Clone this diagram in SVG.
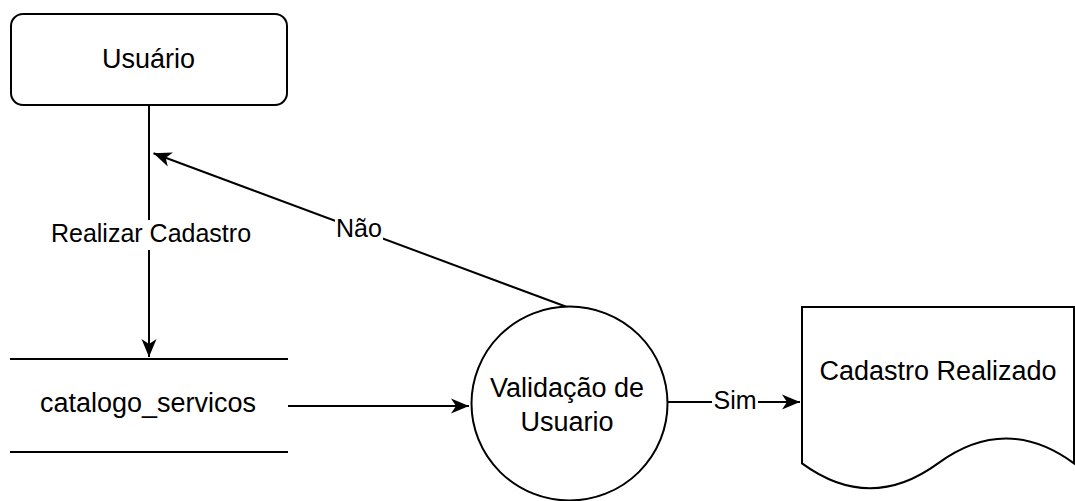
<svg xmlns="http://www.w3.org/2000/svg" width="1075" height="501" viewBox="0 0 1075 501">
<style>
.shape{fill:#ffffff;stroke:#000000;stroke-width:2}
.edge{fill:none;stroke:#000000;stroke-width:2}
.node-text{font-family:"Liberation Sans",Arial,sans-serif;font-size:27px;fill:#000000;text-anchor:middle}
.label{font-family:"Liberation Sans",Arial,sans-serif;font-size:25px;fill:#000000;text-anchor:middle}
.label-bg{fill:#ffffff;stroke:none}
</style>
<defs>
<marker id="arrow" markerUnits="userSpaceOnUse" markerWidth="20" markerHeight="16" refX="18" refY="8" orient="auto">
<path d="M0,0.5 L18,8 L0,15.5 L5,8 Z" fill="#000000" stroke="none"/>
</marker>
</defs>
<rect width="1075" height="501" fill="#ffffff"/>

<g id="connectors">
<g id="edge-realizar">
<line class="edge" x1="149" y1="106" x2="149" y2="357" marker-end="url(#arrow)"/>
<rect class="label-bg" x="48" y="220" width="206" height="30"/>
<text class="label" x="151" y="242">Realizar Cadastro</text>
</g>
<g id="edge-nao">
<line class="edge" x1="567" y1="307" x2="153.5" y2="153.3" marker-end="url(#arrow)"/>
<rect class="label-bg" x="335" y="215" width="48" height="28"/>
<text class="label" x="359" y="237">Não</text>
</g>
<g id="edge-catalogo">
<line class="edge" x1="288" y1="406" x2="469" y2="406" marker-end="url(#arrow)"/>
</g>
<g id="edge-sim">
<line class="edge" x1="667" y1="402" x2="800" y2="402" marker-end="url(#arrow)"/>
<rect class="label-bg" x="712" y="386" width="46" height="30"/>
<text class="label" x="735" y="409">Sim</text>
</g>
</g>

<g id="node-usuario">
<rect class="shape" x="11" y="14" width="276" height="91" rx="12" ry="12"/>
<text class="node-text" x="148.5" y="68">Usuário</text>
</g>

<g id="node-catalogo">
<line class="edge" x1="10" y1="359" x2="288" y2="359"/>
<line class="edge" x1="10" y1="452" x2="288" y2="452"/>
<text class="node-text" x="148" y="412">catalogo_servicos</text>
</g>

<g id="node-validacao">
<ellipse class="shape" cx="569.5" cy="403.5" rx="98" ry="97"/>
<text class="node-text" x="567" y="397">Validação de</text>
<text class="node-text" x="567" y="431">Usuario</text>
</g>

<g id="node-cadastro">
<path class="shape" d="M802,307 H1074 V463.4 Q1006,413.7 938,463.4 Q870,513.1 802,463.4 Z"/>
<text class="node-text" x="938" y="380">Cadastro Realizado</text>
</g>
</svg>
